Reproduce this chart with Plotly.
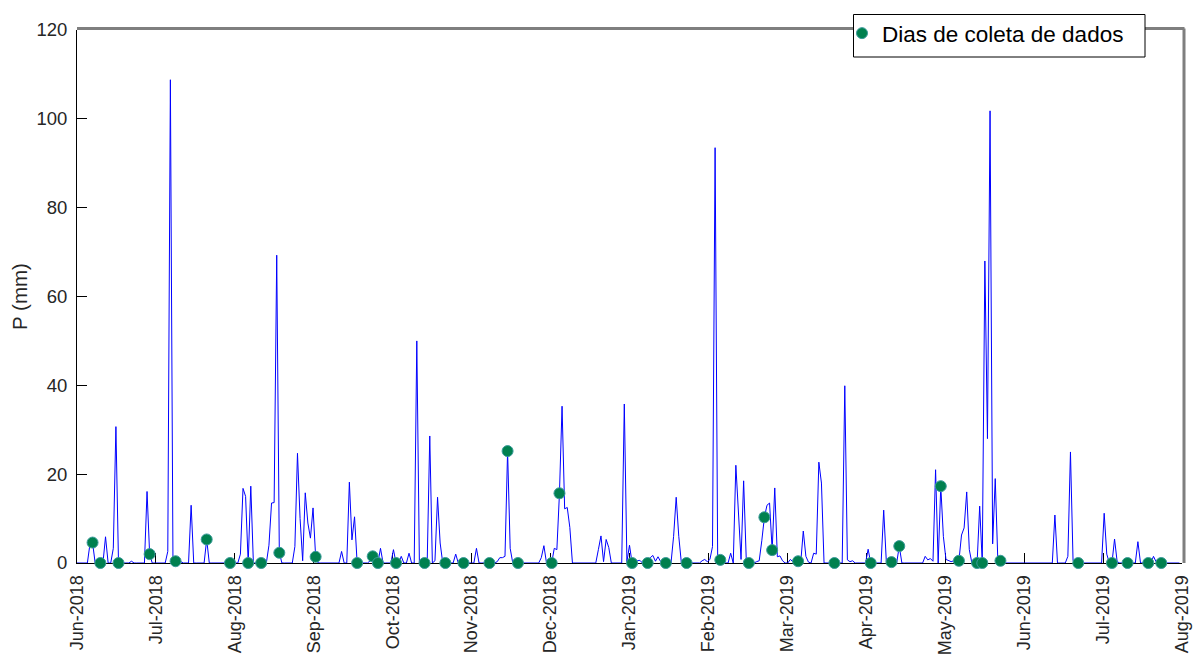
import pandas as pd
import plotly.graph_objects as go

# ---------------- data ----------------
rain_dates = [
    "2018-06-06", "2018-06-07", "2018-06-12", "2018-06-15", "2018-06-16", "2018-06-22",
    "2018-06-28", "2018-06-29", "2018-07-06", "2018-07-07", "2018-07-09", "2018-07-11",
    "2018-07-15", "2018-07-21", "2018-08-03", "2018-08-04", "2018-08-05", "2018-08-07",
    "2018-08-14", "2018-08-15", "2018-08-16", "2018-08-17", "2018-08-18", "2018-08-24",
    "2018-08-25", "2018-08-26", "2018-08-27", "2018-08-28", "2018-08-29", "2018-08-30",
    "2018-08-31", "2018-09-01", "2018-09-11", "2018-09-14", "2018-09-15", "2018-09-16",
    "2018-09-22", "2018-09-23", "2018-09-24", "2018-09-26", "2018-10-01", "2018-10-04",
    "2018-10-07", "2018-10-10", "2018-10-15", "2018-10-17", "2018-10-18", "2018-10-19",
    "2018-10-25", "2018-11-02", "2018-11-10", "2018-11-11", "2018-11-12", "2018-11-13",
    "2018-11-14", "2018-11-15", "2018-11-27", "2018-11-28", "2018-12-02", "2018-12-03",
    "2018-12-04", "2018-12-05", "2018-12-06", "2018-12-07", "2018-12-08", "2018-12-19",
    "2018-12-20", "2018-12-21", "2018-12-22", "2018-12-23", "2018-12-29", "2018-12-30",
    "2018-12-31", "2019-01-03", "2019-01-04", "2019-01-08", "2019-01-09", "2019-01-10",
    "2019-01-11", "2019-01-12", "2019-01-17", "2019-01-18", "2019-01-19", "2019-01-28",
    "2019-01-29", "2019-01-30", "2019-01-31", "2019-02-01", "2019-02-02", "2019-02-03",
    "2019-02-04", "2019-02-08", "2019-02-10", "2019-02-11", "2019-02-12", "2019-02-13",
    "2019-02-14", "2019-02-18", "2019-02-19", "2019-02-20", "2019-02-21", "2019-02-22",
    "2019-02-23", "2019-02-24", "2019-02-25", "2019-02-26", "2019-02-27", "2019-02-28",
    "2019-03-03", "2019-03-04", "2019-03-06", "2019-03-08", "2019-03-09", "2019-03-10",
    "2019-03-12", "2019-03-13", "2019-03-14", "2019-03-15", "2019-03-24", "2019-03-25",
    "2019-03-26", "2019-03-27", "2019-04-02", "2019-04-08", "2019-04-09", "2019-04-10",
    "2019-04-11", "2019-04-14", "2019-04-24", "2019-04-25", "2019-04-26", "2019-04-27",
    "2019-04-28", "2019-04-30", "2019-05-01", "2019-05-02", "2019-05-03", "2019-05-04",
    "2019-05-05", "2019-05-06", "2019-05-07", "2019-05-08", "2019-05-09", "2019-05-10",
    "2019-05-11", "2019-05-15", "2019-05-17", "2019-05-18", "2019-05-19", "2019-05-20",
    "2019-05-21", "2019-05-22", "2019-05-23", "2019-06-13", "2019-06-18", "2019-06-19",
    "2019-06-20", "2019-07-02", "2019-07-03", "2019-07-06", "2019-07-07", "2019-07-15",
    "2019-07-21", "2019-07-22",
]
rain_mm = [
    4.3, 4.6, 5.9, 3.3, 30.7, 0.4,
    16.1, 2.0, 2.6, 108.8, 0.4, 0.3,
    13.0, 5.3, 2.0, 16.8, 15.0, 17.3,
    4.0, 13.5, 13.6, 69.3, 2.3, 3.7,
    24.7, 10.0, 0.5, 15.8, 9.0, 5.6,
    12.4, 1.4, 2.6, 18.2, 5.2, 10.4,
    0.5, 1.5, 0.3, 3.3, 3.0, 1.5,
    2.2, 50.0, 28.6, 0.5, 14.8, 4.5,
    2.0, 3.3, 0.3, 1.2, 1.2, 1.5,
    25.2, 3.3, 1.2, 3.9, 3.3, 3.0,
    15.7, 35.3, 12.2, 12.5, 8.0, 3.0,
    6.1, 0.3, 5.3, 3.5, 35.8, 0.3,
    4.0, 0.5, 0.6, 1.2, 1.7, 0.4,
    1.4, 0.3, 6.0, 14.8, 6.0, 0.5,
    0.8, 0.3, 0.8, 3.7, 93.5, 0.5,
    0.7, 2.2, 22.0, 11.0, 0.8, 18.5,
    1.0, 0.3, 0.5, 5.0, 10.3, 13.0,
    13.5, 2.9, 16.9, 1.4, 1.6, 0.5,
    0.8, 0.3, 0.4, 7.2, 1.5, 0.2,
    2.2, 2.0, 22.7, 18.0, 39.9, 0.7,
    0.3, 0.5, 3.1, 11.9, 0.4, 1.3,
    0.2, 3.8, 1.5, 0.7, 1.0, 0.4,
    21.0, 17.3, 6.0, 0.8, 0.5, 0.3,
    0.5, 0.3, 0.5, 6.3, 7.9, 16.0,
    3.0, 12.8, 68.0, 28.0, 101.8, 4.3,
    19.0, 0.5, 0.5, 10.8, 1.5, 25.0,
    0.5, 11.2, 2.0, 5.4, 0.3, 4.8,
    1.5, 0.3,
]
collection_dates = [
    "2018-06-07", "2018-06-10", "2018-06-17", "2018-06-29", "2018-07-09", "2018-07-21",
    "2018-07-30", "2018-08-06", "2018-08-11", "2018-08-18", "2018-09-01", "2018-09-17",
    "2018-09-23", "2018-09-25", "2018-10-02", "2018-10-13", "2018-10-21", "2018-10-28",
    "2018-11-07", "2018-11-14", "2018-11-18", "2018-12-01", "2018-12-04", "2019-01-01",
    "2019-01-07", "2019-01-14", "2019-01-22", "2019-02-04", "2019-02-15", "2019-02-21",
    "2019-02-24", "2019-03-06", "2019-03-20", "2019-04-03", "2019-04-11", "2019-04-14",
    "2019-04-30", "2019-05-07", "2019-05-14", "2019-05-16", "2019-05-23", "2019-06-22",
    "2019-07-05", "2019-07-11", "2019-07-19", "2019-07-24",
]
month_labels = [
    "Jun-2018", "Jul-2018", "Aug-2018", "Sep-2018", "Oct-2018", "Nov-2018", "Dec-2018",
    "Jan-2019", "Feb-2019", "Mar-2019", "Apr-2019", "May-2019", "Jun-2019", "Jul-2019",
    "Aug-2019",
]
y_ticks = [0, 20, 40, 60, 80, 100, 120]
series_start, series_end = "2018-06-01", "2019-07-31"
axis_start, axis_end = "2018-06-01", "2019-08-01"
legend_name = "Dias de coleta de dados"
y_title = "P (mm)"

# ---------------- build series ----------------
days = pd.date_range(series_start, series_end, freq="D")
precip = pd.Series(rain_mm, index=pd.to_datetime(rain_dates)).reindex(days, fill_value=0.0)
coll = pd.to_datetime(collection_dates)
coll_vals = precip.reindex(coll).values

t0, t1 = pd.Timestamp(axis_start), pd.Timestamp(axis_end)
step = (t1 - t0) / (len(month_labels) - 1)
tickvals = [(t0 + i * step).strftime("%Y-%m-%d %H:%M:%S") for i in range(len(month_labels))]

FONT = "Liberation Sans, Arial, sans-serif"
W, H = 1193, 655
ML, MR, MT, MB = 77, 11, 30, 92
PW, PH = W - ML - MR, H - MT - MB


def px_x(p):
    return (p - ML) / PW


def px_y(p):
    return (H - MB - p) / PH


fig = go.Figure()
fig.add_trace(go.Scatter(
    x=days, y=precip.values, mode="lines",
    line=dict(color="#0000FF", width=1),
    showlegend=False, hoverinfo="skip",
))
fig.add_trace(go.Scatter(
    x=coll, y=coll_vals, mode="markers", name=legend_name,
    marker=dict(size=11, color="#00804F", line=dict(color="#3A9A9A", width=1)),
    cliponaxis=False,
))

axis_common = dict(
    showline=True, linecolor="black", linewidth=1, mirror=False,
    ticks="inside", ticklen=10, tickwidth=1, tickcolor="black",
    showgrid=False, zeroline=False, layer="below traces", automargin=False,
)

fig.update_layout(
    template="none",
    width=W, height=H,
    margin=dict(l=ML, r=MR, t=MT, b=MB, autoexpand=False),
    paper_bgcolor="white", plot_bgcolor="white",
    font=dict(family=FONT, color="#262626"),
    showlegend=True,
    xaxis=dict(type="date", range=[axis_start, axis_end], tickvals=tickvals,
               ticktext=month_labels, tickangle=-90, ticklabelstandoff=4,
               tickfont=dict(family=FONT, size=18, color="#262626"), **axis_common),
    yaxis=dict(range=[0, 120], tickvals=y_ticks, ticklabelstandoff=5,
               tickfont=dict(family=FONT, size=18.5, color="#262626"),
               title=dict(text=y_title, font=dict(family=FONT, size=20.5, color="#262626"), standoff=3),
               **axis_common),
    legend=dict(x=px_x(842), y=px_y(12), xanchor="left", yanchor="top",
                bgcolor="rgba(0,0,0,0)", borderwidth=0,
                font=dict(family=FONT, size=22.5, color="black")),
    shapes=[
        dict(type="line", xref="paper", yref="paper", x0=0, x1=px_x(1184.5),
             y0=px_y(28.5), y1=px_y(28.5), line=dict(color="#7F7F7F", width=3), layer="above"),
        dict(type="line", xref="paper", yref="paper", x0=px_x(1184), x1=px_x(1184),
             y0=0, y1=px_y(28.5), line=dict(color="#7F7F7F", width=3), layer="above"),
        dict(type="rect", xref="paper", yref="paper", x0=px_x(853.5), x1=px_x(1145),
             y0=px_y(57), y1=px_y(14.5), fillcolor="white",
             line=dict(color="black", width=1), layer="above"),
    ],
)

fig.write_html("out.html")
